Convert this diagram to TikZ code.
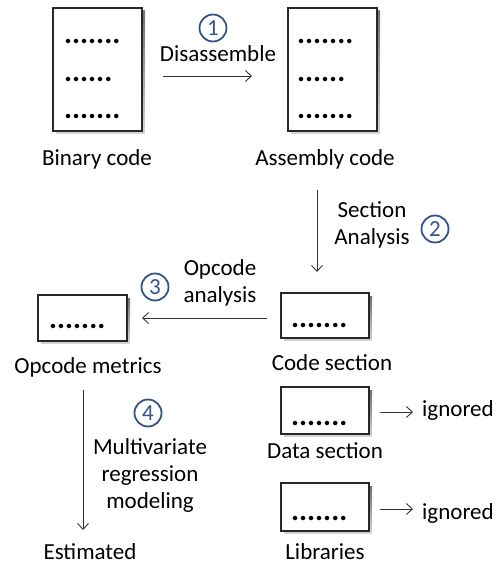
\documentclass[tikz,border=0pt]{standalone}
\usepackage{fontspec}
\setmainfont{Carlito}
\usetikzlibrary{arrows.meta}
\definecolor{boxline}{RGB}{40,40,40}
\definecolor{shade}{RGB}{150,150,150}
\definecolor{stepblue}{RGB}{52,84,138}
\definecolor{arrowgray}{RGB}{50,50,50}
\tikzset{
  lbl/.style={font=\fontsize{23}{26}\selectfont, anchor=base, inner sep=0pt, text=black},
  dotrow/.style={font=\fontsize{30}{30}\selectfont\bfseries, anchor=base west, inner sep=0pt},
  doc/.style={draw=boxline, line width=1.2pt, fill=white, inner sep=0pt},
  stepnum/.style={circle, draw=stepblue, line width=1.8pt, minimum size=27pt, inner sep=0pt,
    text=stepblue, font=\fontsize{23}{23}\selectfont},
  arr/.style={draw=arrowgray, line width=0.9pt, -{Straight Barb[length=6pt,width=11pt,line width=0.9pt]}}
}
\newcommand{\docbox}[5]{% name, x1, y1, x2, y2
  \fill[shade, opacity=0.8] (#2+3,#3+3) rectangle (#4+3,#5+3);
  \node[doc, minimum width=#4-#2, minimum height=#5-#3] (#1) at ({(#2+#4)/2},{(#3+#5)/2}) {};
}
\begin{document}
\begin{tikzpicture}[x=1pt,y=-1pt]
\useasboundingbox (0,0) rectangle (502,564);

% source listings
\docbox{bin}{53}{8}{142}{131}
\node[dotrow] (bind1) at (64,44) {.......};
\node[dotrow] (bind2) at (64,82) {......};
\node[dotrow] (bind3) at (64,119) {.......};
\node[lbl] (binlbl) at (97,165) {Binary code};

\docbox{asm}{288}{8}{377}{131}
\node[dotrow] (asmd1) at (297,44) {.......};
\node[dotrow] (asmd2) at (297,82) {......};
\node[dotrow] (asmd3) at (297,119) {.......};
\node[lbl] (asmlbl) at (325,165) {Assembly code};

% step 1
\coordinate (a1s) at (163,76);
\coordinate (a1e) at (252,76);
\draw[arr] (a1s) -- (a1e);
\node[stepnum] (s1) at (213,28) {1};
\node[lbl] (dis) at (218,62) {Disassemble};

% step 2
\coordinate (a2s) at (317,190);
\coordinate (a2e) at (317,272);
\draw[arr] (a2s) -- (a2e);
\node[lbl] (sec1) at (372,217) {Section};
\node[lbl] (sec2) at (372,244) {Analysis};
\node[stepnum] (s2) at (435,229) {2};

% sections
\docbox{code}{281}{293}{369}{338}
\node[dotrow] (coded) at (291,327) {.......};
\node[lbl] (codelbl) at (332,370) {Code section};

\docbox{data}{281}{387}{369}{434}
\node[dotrow] (datad) at (291,425) {.......};
\node[lbl] (datalbl) at (325,458) {Data section};

\docbox{lib}{281}{483}{369}{531}
\node[dotrow] (libd) at (291,520) {.......};
\node[lbl] (liblbl) at (325,559) {Libraries};

\node[lbl, anchor=base west] (ign1) at (422,416) {ignored};
\node[lbl, anchor=base west] (ign2) at (422,519) {ignored};
\coordinate (a5s) at (380,412);
\coordinate (a6s) at (380,509);
\draw[arr, shorten >=9pt] (a5s) -- (ign1.west |- a5s);
\draw[arr, shorten >=9pt] (a6s) -- (ign2.west |- a6s);

% step 3
\docbox{ops}{38}{295}{127}{341}
\node[dotrow] (opsd) at (49,328) {.......};
\node[lbl] (opslbl) at (88,373) {Opcode metrics};
\coordinate (a3s) at (267,318);
\coordinate (a3e) at (142,318);
\draw[arr] (a3s) -- (a3e);
\node[stepnum] (s3) at (155,287) {3};
\node[lbl] (op1) at (220,275) {Opcode};
\node[lbl] (op2) at (220,302) {analysis};

% step 4
\coordinate (a4s) at (83,390);
\coordinate (a4e) at (83,530);
\draw[arr] (a4s) -- (a4e);
\node[stepnum] (s4) at (148,413) {4};
\node[lbl] (mv1) at (150,454) {Multivariate};
\node[lbl] (mv2) at (150,481) {regression};
\node[lbl] (mv3) at (150,508) {modeling};
\node[lbl] (est) at (90,559) {Estimated};
\end{tikzpicture}
\end{document}
